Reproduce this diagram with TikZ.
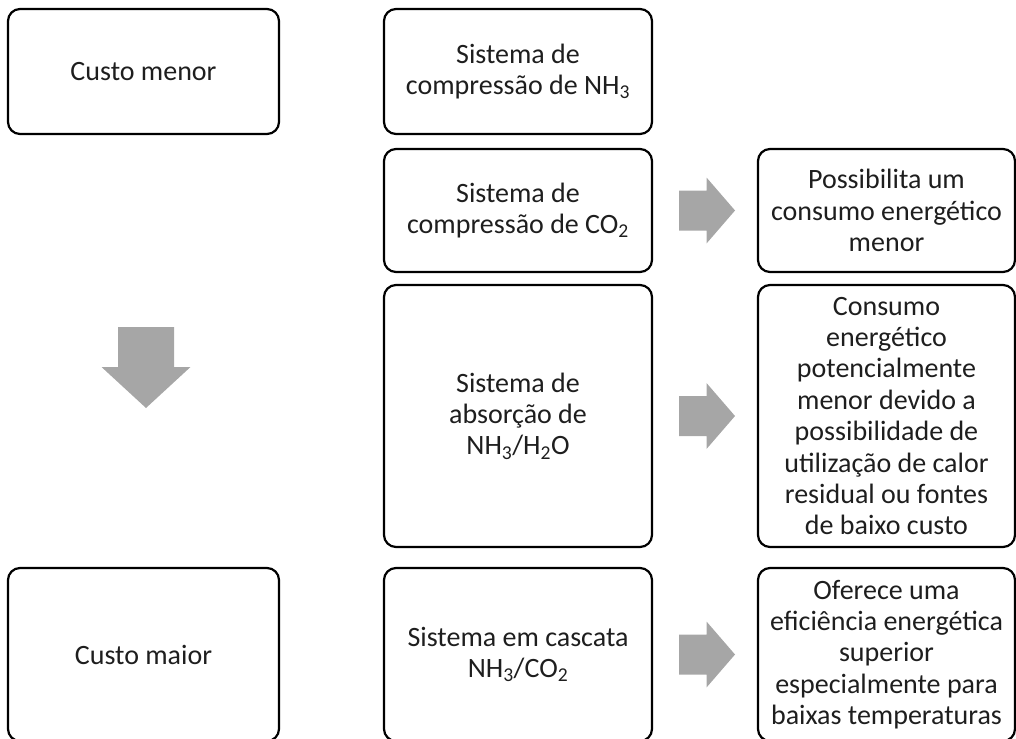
\documentclass[tikz,border=0pt]{standalone}
\usepackage{fontspec}
\setmainfont{Carlito}
\usetikzlibrary{calc}
\definecolor{arrowgray}{HTML}{A6A6A6}
\definecolor{txtcol}{HTML}{1E1E1E}
\begin{document}
\begin{tikzpicture}[x=1pt,y=-1pt,
  box/.style={draw=black, line width=2.2pt, rounded corners=12pt, inner sep=0pt,
    align=center, text=txtcol, font=\fontsize{28}{31.4}\selectfont},
  leftbox/.style={box, minimum width=271pt},
  midbox/.style={box, minimum width=268pt},
  rightbox/.style={box, minimum width=257pt},
  rarrow/.pic={\fill[arrowgray] (-26,-20) -- (1.5,-20) -- (1.5,-33) -- (30,0) -- (1.5,33) -- (1.5,20) -- (-26,20) -- cycle;},
  darrow/.pic={\fill[arrowgray] (-28,-40) -- (28,-40) -- (28,0) -- (44.5,0) -- (0,41) -- (-44.5,0) -- (-28,0) -- cycle;}]
\useasboundingbox (0,0) rectangle (1016,738);
\begin{scope}
\clip (0,0) rectangle (1016,738);
% left column
\node[leftbox, minimum height=125pt] (cmenor) at (143.5,71.5) {Custo menor};
\node[leftbox, minimum height=173pt] (cmaior) at (143.5,654.5) {Custo maior};
% middle column
\node[midbox, minimum height=125pt] (nh3) at (518,71.5) {Sistema de\\compressão de NH\textsubscript{3}};
\node[midbox, minimum height=123pt] (co2) at (518,210.5) {Sistema de\\compressão de CO\textsubscript{2}};
\node[midbox, minimum height=262pt] (ah) at (518,416) {Sistema de\\absorção de\\NH\textsubscript{3}/H\textsubscript{2}O};
\node[midbox, minimum height=173pt] (casc) at (518,654.5) {Sistema em cascata\\NH\textsubscript{3}/CO\textsubscript{2}};
% right column
\node[rightbox, minimum height=123pt] (poss) at (886.5,210.5) {Possibilita um\\consumo energético\\menor};
\node[rightbox, minimum height=262pt] (cons) at (886.5,416) {Consumo\\energético\\potencialmente\\menor devido a\\possibilidade de\\utilização de calor\\residual ou fontes\\de baixo custo};
\node[rightbox, minimum height=173pt] (ofer) at (886.5,654.5) {Oferece uma\\eficiência energética\\superior\\especialmente para\\baixas temperaturas};
% block arrows
\coordinate (a1) at ($(co2.east)!0.5!(poss.west)$);
\coordinate (a2) at ($(ah.east)!0.5!(cons.west)$);
\coordinate (a3) at ($(casc.east)!0.5!(ofer.west)$);
\coordinate (dn) at ($(cmenor.south)!0.5!(cmaior.north)+(2.5,16)$);
\pic at (a1) {rarrow};
\pic at (a2) {rarrow};
\pic at (a3) {rarrow};
\pic at (dn) {darrow};
\end{scope}
\end{tikzpicture}
\end{document}
